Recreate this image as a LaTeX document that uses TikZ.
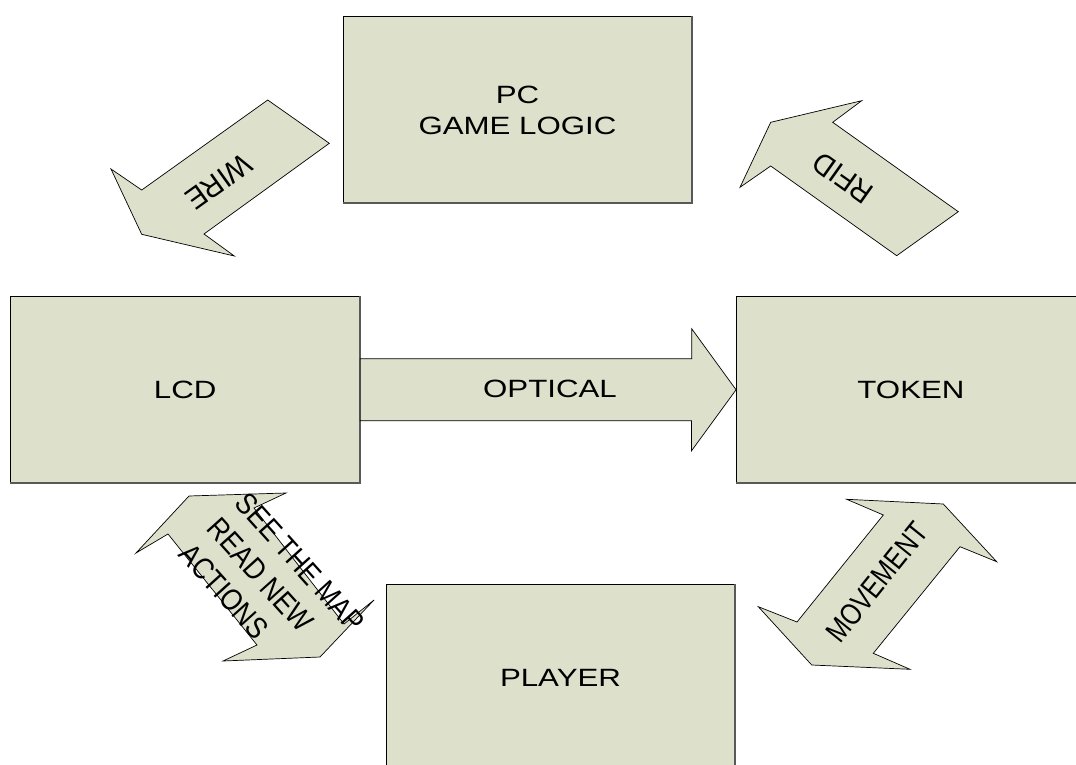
\documentclass[tikz,border=0pt]{standalone}
\usepackage{graphicx}
\usepackage{fontspec}
\setmainfont{Liberation Sans}
\definecolor{panel}{HTML}{DDE0CB}
\newcommand\labelfont{\fontsize{25}{31}\selectfont}
\newcommand\bandfont{\fontsize{28}{38}\selectfont}
\newcommand\wide[1]{\scalebox{1.25}[1]{#1}}
\newcommand\narrow[1]{\scalebox{0.93}[1.08]{#1}}
\begin{document}
\begin{tikzpicture}[x=1pt,y=-1pt,
  block/.style={draw=black, line width=0.9pt, fill=panel, minimum width=349pt,
    minimum height=187pt, inner sep=0pt, align=center, font=\labelfont},
  edgeshade/.style={draw=black!65, line width=2.2pt},
  band/.style={draw=black, line width=0.7pt, fill=panel, line join=miter},
  tag/.style={font=\labelfont, inner sep=0pt, align=left},
  bandtag/.style={font=\bandfont, inner sep=0pt, align=left}]
\useasboundingbox (0,0) rectangle (1076,765);
\clip (0,0) rectangle (1076,765);

% blocks
\node[block] (pc)     at (517.5,110)    {\wide{PC}\\\wide{GAME LOGIC}};
\node[block] (lcd)    at (185.25,389.75) {\wide{LCD}};
\node[block] (token)  at (911,389.75)   {\wide{TOKEN}};
\node[block] (player) at (560.5,677.5)  {\wide{PLAYER}};
\foreach \b in {pc,lcd,token,player}
  \draw[edgeshade] ([xshift=-0.5pt]\b.north east) -- ([xshift=-0.5pt,yshift=0.8pt]\b.south east) -- ([yshift=0.8pt]\b.south west);

% optical link
\draw[band] ([yshift=31pt]lcd.east) -- ++(331.5,0) -- ++(0,-30) -- (token.west)
  -- ++(-44.5,61) -- ++(0,-30) -- ([yshift=-31pt]lcd.east) -- cycle;
\node[tag] (optical) at (550,389) {\wide{OPTICAL}};

% wire link
\draw[band] (267.7,100) -- (329.3,143.3) -- (204,234) -- (234.3,256)
  -- (141.7,234.3) -- (111,169) -- (141.7,190) -- cycle;
\node[bandtag, rotate=215.7] (wire) at (219,182) {\scalebox{1}[1.08]{WIRE}};

% rfid link
\draw[band] (861.7,100.7) -- (770.7,122.3) -- (740,187.3) -- (770.7,166)
  -- (896.7,255.7) -- (958.3,211.7) -- (832.7,122.3) -- cycle;
\node[bandtag, rotate=144.6] (rfid) at (843,178) {\scalebox{1}[1.08]{RFID}};

% player <-> lcd
\draw[band] (189,496) -- (286,493) -- (254,508) -- (344,624) -- (374,600)
  -- (320,657) -- (223,661) -- (257,645) -- (168,534) -- (136,553) -- cycle;
\node[bandtag, rotate=-48] (see) at (272,588)
  {\narrow{SEE THE MAP}\\\narrow{READ NEW}\\\narrow{ACTIONS}};

% player <-> token
\draw[band] (943.3,504) -- (996.7,561.7) -- (960,546.7) -- (873.3,653.3)
  -- (910,669.3) -- (811.7,665) -- (758.3,606.7) -- (797,622) -- (883.3,515)
  -- (846.7,499.3) -- cycle;
\node[bandtag, rotate=51.2] (move) at (877,582) {\scalebox{0.88}[1.08]{MOVEMENT}};
\end{tikzpicture}
\end{document}
